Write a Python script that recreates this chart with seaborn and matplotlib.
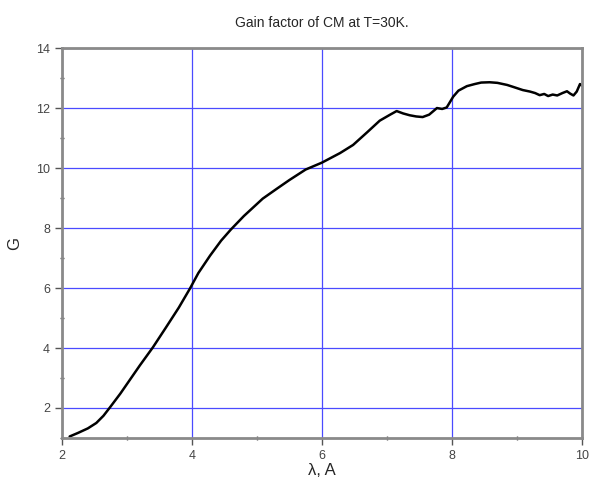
import numpy as np
import matplotlib
matplotlib.use("Agg")
import matplotlib.pyplot as plt
from matplotlib.ticker import MultipleLocator
import pandas as pd
import seaborn as sns

# wavelength (A) and gain factor
wavelength = [2.12, 2.25, 2.40, 2.53, 2.64, 2.74, 2.90, 3.05, 3.20, 3.40,
              3.60, 3.80, 3.97, 4.10, 4.28, 4.45, 4.60, 4.80, 5.09, 5.30,
              5.50, 5.75, 6.00, 6.28, 6.48, 6.70, 6.89, 7.05, 7.15, 7.25,
              7.35, 7.45, 7.55, 7.65, 7.77, 7.85, 7.92, 8.02, 8.10, 8.23,
              8.35, 8.45, 8.58, 8.70, 8.85, 8.95, 9.09, 9.20, 9.28, 9.35,
              9.42, 9.48, 9.55, 9.62, 9.70, 9.77, 9.82, 9.87, 9.92, 9.97, 10.0]
gain = [1.05, 1.17, 1.32, 1.50, 1.74, 2.02, 2.48, 2.95, 3.42, 4.02,
        4.68, 5.35, 5.98, 6.50, 7.08, 7.58, 7.95, 8.40, 8.98, 9.30,
        9.60, 9.95, 10.18, 10.50, 10.77, 11.20, 11.58, 11.78, 11.90, 11.82,
        11.76, 11.72, 11.70, 11.78, 12.00, 11.97, 12.02, 12.38, 12.58, 12.73,
        12.80, 12.85, 12.86, 12.84, 12.77, 12.70, 12.60, 12.55, 12.50, 12.43,
        12.47, 12.40, 12.45, 12.42, 12.50, 12.56, 12.48, 12.42, 12.55, 12.80, 12.75]

df = pd.DataFrame({"lam": wavelength, "G": gain})

sns.set_style("white")
plt.rcParams["font.family"] = ["Liberation Sans", "DejaVu Sans"]

fig = plt.figure(figsize=(5.89, 4.88), dpi=100)
ax = fig.add_axes([0.105, 0.1025, 0.883, 0.799])

sns.lineplot(data=df, x="lam", y="G", color="black", linewidth=1.8, ax=ax)

ax.set_xlim(2, 10)
ax.set_ylim(1, 14)
ax.xaxis.set_major_locator(MultipleLocator(2))
ax.xaxis.set_minor_locator(MultipleLocator(1))
ax.yaxis.set_major_locator(MultipleLocator(2))
ax.yaxis.set_minor_locator(MultipleLocator(1))
ax.set_yticks([2, 4, 6, 8, 10, 12, 14])

ax.grid(True, which="major", color="#4a4aff", linewidth=0.9)
ax.set_axisbelow(True)

for side in ["left", "right", "top", "bottom"]:
    ax.spines[side].set_visible(True)
    ax.spines[side].set_color("#8a8a8a")
    ax.spines[side].set_linewidth(2)

ax.tick_params(which="major", direction="out", length=5, width=1, color="#555555",
               labelsize=9, labelcolor="#444444", bottom=True, left=True)
ax.tick_params(which="minor", direction="inout", length=3, width=1, color="#555555",
               bottom=True, left=True)

ax.set_title("Gain factor of CM at T=30K.", fontsize=10, pad=15)
ax.set_xlabel("λ, A", fontsize=12, labelpad=1)
ax.set_ylabel("G", fontsize=12, labelpad=10)

fig.savefig("out.png", dpi=100)
